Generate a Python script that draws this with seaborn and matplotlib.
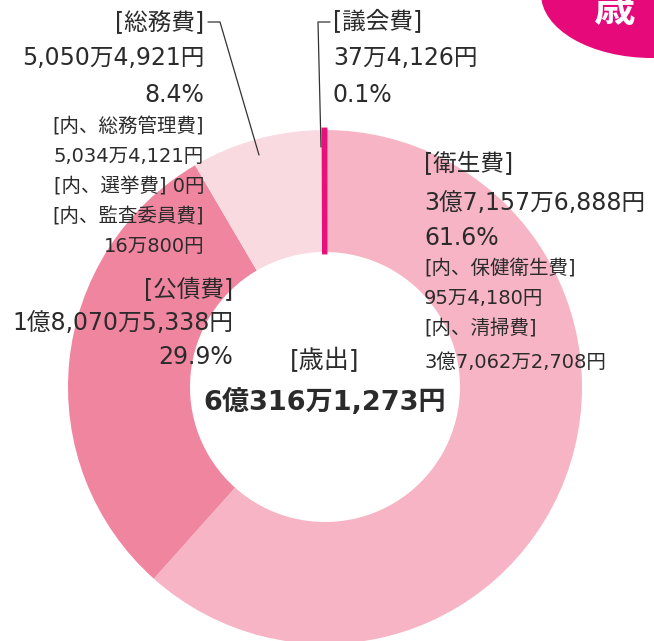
import matplotlib.pyplot as plt
import seaborn as sns
from matplotlib.patches import Ellipse

# 歳出 breakdown (yen)
categories = ["衛生費", "公債費", "総務費", "議会費"]
amounts = [371576888, 180705338, 50504921, 374126]
colors = ["#f6b4c4", "#f0859f", "#fadae1", "#e8107a"]

sns.set_theme(style="white")
plt.rcParams["font.family"] = ["DejaVu Sans", "Noto Sans CJK JP"]

W, H = 654, 641
fig = plt.figure(figsize=(W / 100, H / 100), dpi=100)
ax = fig.add_axes([0, 0, 1, 1])


def Y(y):
    return H - y


wedges, _ = ax.pie(amounts, colors=colors, startangle=90, counterclock=False,
                   radius=257, center=(325, Y(387)),
                   wedgeprops=dict(width=122, edgecolor="none", linewidth=0))
# the tiny 議会費 slice is drawn a bit wider so it stays visible
wedges[3].set_edgecolor(colors[3])
wedges[3].set_linewidth(3.5)

ax.set_xlim(0, W)
ax.set_ylim(0, H)
ax.set_aspect("equal")
ax.axis("off")

txt = "#2b2b2b"
big = 17
small = 14


def lines(x, rows, ha):
    for y, s, size in rows:
        ax.text(x, Y(y), s, ha=ha, va="center", fontsize=size, color=txt)


# 総務費
lines(204, [(22, "[総務費]", big), (58, "5,050万4,921円", big), (95, "8.4%", big),
            (127, "[内、総務管理費]", small), (157, "5,034万4,121円", small),
            (187, "[内、選挙費] 0円", small), (217, "[内、監査委員費]", small),
            (246, "16万800円", small)], "right")
ax.plot([208, 220, 259], [Y(22), Y(22), Y(155)], color="#333333", lw=0.9)

# 議会費
lines(333, [(22, "[議会費]", big), (58, "37万4,126円", big), (95, "0.1%", big)], "left")
ax.plot([330, 318, 321], [Y(22), Y(22), Y(147)], color="#333333", lw=0.9)

# 衛生費
lines(424, [(163, "[衛生費]", big), (203, "3億7,157万6,888円", big), (238, "61.6%", big),
            (269, "[内、保健衛生費]", small), (298, "95万4,180円", small),
            (329, "[内、清掃費]", small), (362, "3億7,062万2,708円", small)], "left")

# 公債費
lines(233, [(290, "[公債費]", big), (323, "1億8,070万5,338円", big), (357, "29.9%", big)], "right")

# center
ax.text(325, Y(360), "[歳出]", ha="center", va="center", fontsize=18, color=txt)
ax.text(325, Y(402), "6億316万1,273円", ha="center", va="center", fontsize=19.5,
        fontweight="bold", color=txt)

# badge
ax.add_patch(Ellipse((652, Y(-6)), 222, 128, color="#e6097a", lw=0))
ax.text(615, Y(9), "歳", ha="center", va="center", fontsize=30, fontweight="bold",
        color="white")

fig.savefig("out.png", dpi=100)
